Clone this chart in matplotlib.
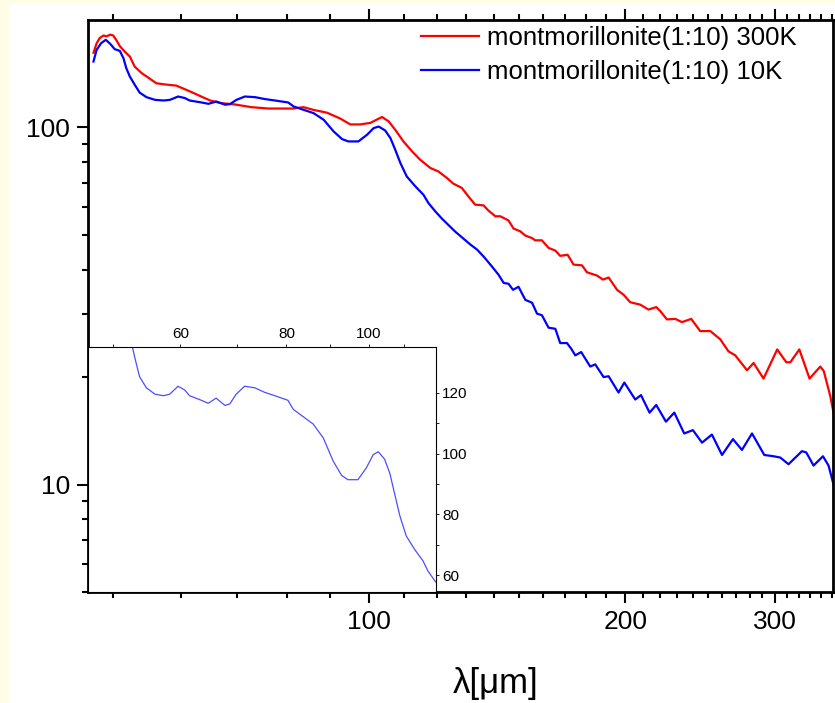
import matplotlib
matplotlib.use("Agg")
import matplotlib.pyplot as plt
from matplotlib.ticker import FixedLocator, NullFormatter, FixedFormatter
from matplotlib.patches import Rectangle

# Wavelength (µm) and signal for the 300 K measurement
wl_300 = [47.4, 47.8, 48.2, 48.7, 49.1, 49.6, 50.0, 50.4, 50.9, 51.6, 52.3, 53.0, 54.0, 55.2, 56.2,
          57.5, 59.3, 60.7, 62.1, 63.5, 65.0, 67.0, 69.5, 72.7, 76.1, 78.6, 81.5, 83.7, 86.0, 89.2,
          92.4, 95.0, 97.6, 100.3, 103.5, 105.4, 107.3, 109.7, 112.3, 114.8, 118.0, 120.6, 123.4,
          125.6, 128.5, 130.8, 133.2, 136.3, 138.1, 140.7, 142.6, 145.8, 147.8, 150.5, 152.6, 155.4,
          156.7, 159.6, 162.5, 165.5, 167.7, 171.1, 173.9, 177.9, 180.3, 185.2, 188.3, 191.2, 195.6,
          199.1, 202.7, 208.3, 213.0, 217.5, 219.9, 223.9, 229.0, 233.2, 239.1, 245.0, 251.8, 258.7,
          264.5, 269.4, 278.1, 283.1, 290.8, 301.8, 309.3, 312.7, 320.4, 329.4, 339.1, 342.3, 348.4,
          351.5]
flux_300 = [162, 172, 178, 181, 180, 182, 181, 176, 169, 163, 158, 148, 142, 137, 133, 132, 131, 128,
            125, 122, 119, 117, 116, 114, 113, 113, 113, 114, 112, 110, 106, 102, 102, 103, 107, 104,
            98.5, 91.4, 85.7, 81.2, 77, 75.3, 72.2, 69.6, 67.7, 64.1, 60.8, 60.5, 58.5, 56.4, 56.4,
            54.9, 52.1, 51.2, 49.8, 49, 48.3, 48.3, 46, 45.2, 43.7, 44, 41.3, 41.1, 39.3, 38.5, 37.5,
            38, 35.1, 34, 32.4, 31.9, 30.9, 31.4, 30.6, 29, 29.1, 28.5, 29.1, 26.9, 26.9, 25.5, 23.6,
            23, 20.9, 21.9, 19.8, 23.9, 22, 22, 23.9, 19.8, 21.4, 20.8, 17.7, 15.9]

# Wavelength (µm) and signal for the 10 K measurement
wl_10 = [47.4, 47.8, 48.4, 49.0, 49.6, 50.2, 50.9, 51.4, 51.8, 52.3, 53.0, 53.7, 54.7, 56.0, 57.3,
         58.3, 59.6, 60.7, 61.5, 63.5, 64.7, 66.1, 67.7, 68.6, 69.8, 71.4, 73.4, 75.4, 77.5, 80.3,
         81.5, 86.0, 88.4, 90.8, 92.9, 94.5, 97.1, 99.4, 101.2, 102.6, 104.4, 105.9, 107.3, 108.8,
         110.7, 113.3, 115.8, 117.4, 119.6, 121.8, 126.2, 131.5, 133.9, 136.3, 139.4, 141.9, 143.9,
         145.8, 147.6, 149.8, 152.6, 155.4, 157.5, 159.6, 162.5, 165.5, 167.7, 170.8, 172.8, 174.7,
         177.5, 181.9, 184.4, 188.6, 191.2, 196.4, 199.5, 205.5, 208.7, 213.6, 217.5, 223.3, 228.4,
         234.6, 240.2, 246.2, 252.9, 259.9, 267.7, 274.3, 281.9, 291.4, 298.8, 304.3, 311.2, 322.7,
         326.5, 333.0, 341.6, 346.8, 351.5]
flux_10 = [153.0, 165.0, 172.3, 176.0, 171.5, 165.7, 163.9, 156.4, 146.6, 138.9, 131.7, 125.3, 121.6,
           119.5, 119.0, 119.5, 122.1, 120.9, 119.0, 117.5, 116.5, 118.2, 115.8, 116.3, 119.5, 122.1,
           121.6, 120.1, 119.0, 117.5, 114.5, 109.7, 105.1, 97.5, 92.8, 91.4, 91.4, 95.4, 99.6, 100.6,
           98.1, 93.4, 86.6, 79.5, 72.9, 68.4, 64.8, 61.4, 58.2, 55.5, 51.1, 47.0, 45.5, 43.5, 40.8,
           38.7, 36.7, 36.5, 35.1, 35.8, 32.9, 32.3, 30.1, 29.8, 27.5, 27.3, 24.9, 24.9, 24.0, 23.0,
           23.5, 21.4, 21.7, 20.0, 20.1, 18.1, 19.3, 17.3, 17.8, 15.9, 16.7, 15.0, 15.9, 13.9, 14.2,
           13.1, 13.8, 12.1, 13.4, 12.5, 13.9, 12.1, 12.0, 11.9, 11.4, 12.4, 12.3, 11.3, 12.0, 11.3,
           10.0]

series_labels = ['montmorillonite(1:10) 300K', 'montmorillonite(1:10) 10K']
x_major = [100, 200, 300]
x_major_labels = ['100', '200', '300']
y_major = [10, 100]
y_major_labels = ['10', '100']
inset_x_major = [60, 80, 100]
inset_x_labels = ['60', '80', '100']
inset_y_major = [60, 80, 100, 120]

plt.rcParams['font.family'] = ['Liberation Sans', 'DejaVu Sans']

fig = plt.figure(figsize=(8.35, 7.03), dpi=100, facecolor='#FFFDE6')
fig.patches.append(Rectangle((9 / 835, 0), 1, 1 - 3 / 703, transform=fig.transFigure,
                             facecolor='white', edgecolor='none', zorder=-1))

# main log-log panel
ax = fig.add_axes([88 / 835, 1 - 592 / 703, 745 / 835, 572 / 703])
ax.set_xscale('log')
ax.set_yscale('log')
ax.plot(wl_300, flux_300, color='#FF0000', lw=1.6, label=series_labels[0])
ax.plot(wl_10, flux_10, color='#0000FF', lw=1.6, label=series_labels[1])
ax.set_xlim(46.7, 351)
ax.set_ylim(5.0, 200)
for s in ax.spines.values():
    s.set_linewidth(2.0)
ax.xaxis.set_major_locator(FixedLocator(x_major))
ax.xaxis.set_major_formatter(FixedFormatter(x_major_labels))
ax.xaxis.set_minor_locator(FixedLocator([v for v in range(50, 360, 10) if v not in x_major]))
ax.xaxis.set_minor_formatter(NullFormatter())
ax.yaxis.set_major_locator(FixedLocator(y_major))
ax.yaxis.set_major_formatter(FixedFormatter(y_major_labels))
ax.yaxis.set_minor_locator(FixedLocator([5, 6, 7, 8, 9, 20, 30, 40, 50, 60, 70, 80, 90]))
ax.yaxis.set_minor_formatter(NullFormatter())
ax.tick_params(axis='both', which='major', direction='out', length=8, width=1.5, labelsize=19, pad=5)
ax.tick_params(axis='both', which='minor', direction='out', length=4.5, width=1.5)
ax.tick_params(axis='x', which='both', top=True)
ax.set_xlabel('λ[μm]', fontsize=25)
ax.xaxis.set_label_coords((496 - 88) / 745, (592 - 684) / 572)
ax.xaxis.label.set_va('center')
ax.legend(loc='upper left', bbox_to_anchor=(421 / 835, 1 - 25.5 / 703), bbox_transform=fig.transFigure,
          frameon=False, fontsize=18.5, handlelength=2.25, handletextpad=0.3, borderpad=0,
          borderaxespad=0, labelspacing=0.4)

# inset: 10 K curve on a linear scale
ins = fig.add_axes([88 / 835, 1 - 592 / 703, 348 / 835, 245 / 703])
ins.set_xscale('log')
ins.plot(wl_10, flux_10, color='#4D4DFF', lw=0.9)
ins.set_xlim(46.7, 120)
ins.set_ylim(54.5, 135)
for s in ins.spines.values():
    s.set_linewidth(0.8)
ins.xaxis.set_major_locator(FixedLocator(inset_x_major))
ins.xaxis.set_major_formatter(FixedFormatter(inset_x_labels))
ins.xaxis.set_minor_locator(FixedLocator([50, 70, 90, 110]))
ins.xaxis.set_minor_formatter(NullFormatter())
ins.yaxis.set_major_locator(FixedLocator(inset_y_major))
ins.yaxis.set_minor_locator(FixedLocator([70, 90, 110]))
ins.xaxis.tick_top()
ins.yaxis.tick_right()
ins.tick_params(axis='both', which='both', direction='out', length=2.5, width=0.6, labelsize=11, pad=2)

fig.savefig('out.png', dpi=100, facecolor=fig.get_facecolor())
